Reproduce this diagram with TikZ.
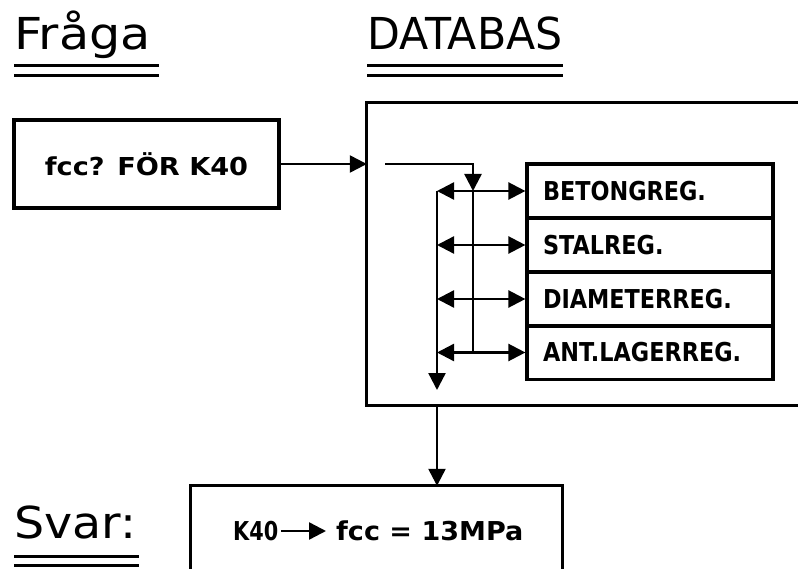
\documentclass[tikz,border=0pt]{standalone}
\usepackage{fontspec}
\setmainfont{DejaVu Sans}
\usetikzlibrary{arrows.meta}
\newcommand{\regtxt}[1]{\scalebox{0.86}[1]{#1}}
\tikzset{
  tri/.tip={Triangle[length=17pt,width=17pt]},
  box/.style={draw,line width=3.2pt,inner sep=0pt},
  frame/.style={line width=3.2pt,line cap=rect},
  conn/.style={line width=2.4pt},
  uline/.style={line width=3pt},
  title/.style={inner sep=0pt,font=\fontsize{44}{44}\selectfont},
  qtext/.style={font=\bfseries\fontsize{24.7}{25}\selectfont},
  reg/.style={draw,line width=3.2pt,minimum height=54pt,text width=214pt,inner xsep=16pt,inner ysep=0pt,align=left,font=\bfseries\fontsize{26}{26}\selectfont},
  anstext/.style={inner sep=0pt,font=\bfseries\fontsize{26}{26}\selectfont}
}
\begin{document}
\begin{tikzpicture}[x=1pt,y=-1pt]
\useasboundingbox (0,0) rectangle (798,569);
\fill[white] (0,0) rectangle (798,569);

% titles
\node[title,anchor=base west] (fraga) at (14,50) {\scalebox{1.12}[1]{Fråga}};
\node[title,anchor=base west] (databas) at (367,50) {\scalebox{0.97}[1]{DATABAS}};
\node[title,anchor=base west] (svar) at (14,538) {\scalebox{1.08}[1]{Svar:}};
\draw[uline] (14,66) -- (159,66) (14,76) -- (159,76);
\draw[uline] (367,66) -- (563,66) (367,76) -- (563,76);
\draw[uline] (14,556) -- (139,556) (14,565) -- (139,565);

% question box
\node[box,qtext,minimum width=265pt,minimum height=88pt] (q) at (146.5,164)
  {\scalebox{1.1}[1]{fcc? FÖR K40}};

% database box (open to the right)
\node[minimum width=462pt,minimum height=302pt,inner sep=0pt] (db) at (598,254) {};
\draw[frame] (db.north east) -- (db.north west) -- (db.south west) -- (db.south east);
\draw[conn,-tri] (q.east) -- (db.west |- q.east);

% registers
\node[reg] (r1) at (650,191) {\regtxt{BETONGREG.}};
\node[reg] (r2) at (650,245) {\regtxt{STALREG.}};
\node[reg] (r3) at (650,299) {\regtxt{DIAMETERREG.}};
\node[reg] (r4) at (650,352.5) {\regtxt{ANT.LAGERREG.}};

\coordinate (in) at (385,164);
\coordinate (split) at (473,164);
\coordinate (l1) at (437,191);
\coordinate (lbot) at (437,390);

\draw[conn,-tri] (in) -- (split) -- (split |- r1.west);
\draw[conn] (split |- r1.west) -- (split |- r4.west);
\draw[conn,-tri] (l1) -- (lbot);
\draw[conn,tri-tri] (r1.west -| l1) -- (r1.west);
\draw[conn,tri-tri] (r2.west -| l1) -- (r2.west);
\draw[conn,tri-tri] (r3.west -| l1) -- (r3.west);
\draw[conn,tri-tri] (r4.west -| l1) -- (r4.west);

% answer box (open at the bottom)
\node[minimum width=371pt,minimum height=114pt,inner sep=0pt] (ans) at (376.5,543) {};
\draw[frame] (ans.south west) -- (ans.north west) -- (ans.north east) -- (ans.south east);
\draw[conn,-tri] (db.south -| lbot) -- (ans.north -| lbot);

\node[anstext,anchor=west] (k40) at (233,531) {\scalebox{0.8}[1]{K40}};
\node[anstext,anchor=west] (fcc) at (336,531) {\scalebox{1.04}[1]{fcc = 13MPa}};
\draw[conn,-tri] ([xshift=3pt]k40.east) -- ([xshift=-10pt]fcc.west);
\end{tikzpicture}
\end{document}
